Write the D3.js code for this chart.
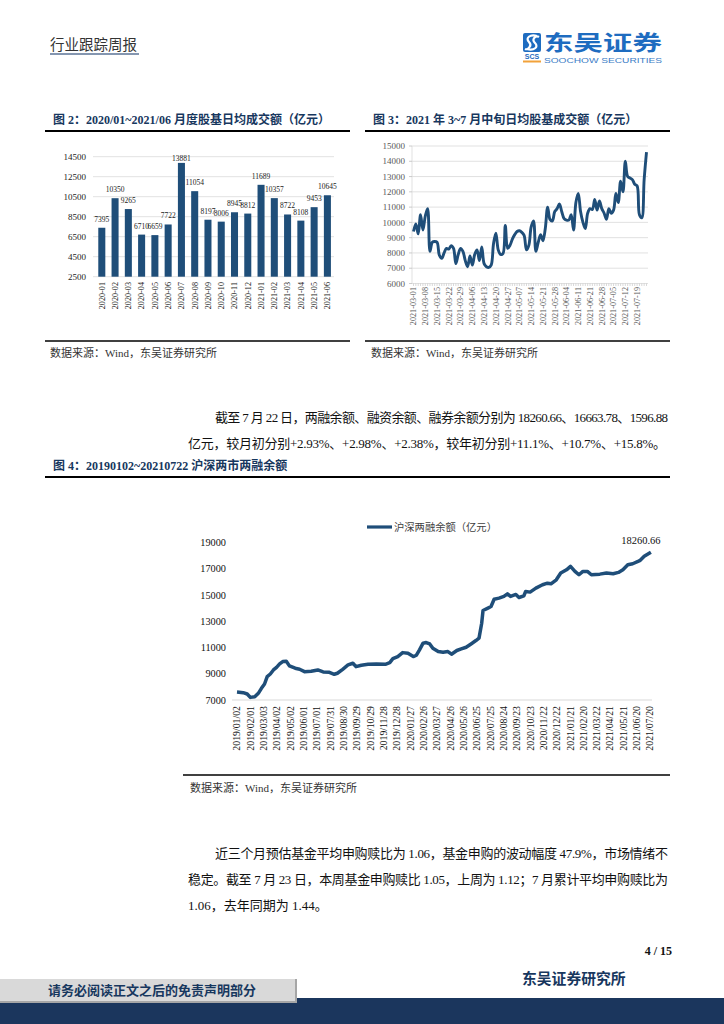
<!DOCTYPE html>
<html><head><meta charset="utf-8">
<script src="https://cdn.jsdelivr.net/npm/d3@7"></script>
<style>body{margin:0;background:#fff}svg{display:block}</style>
</head><body>
<svg id="page" width="724" height="1024"></svg>
<script>
// ---------- DATA ----------
const months2 = ["2020-01","2020-02","2020-03","2020-04","2020-05","2020-06","2020-07","2020-08","2020-09","2020-10","2020-11","2020-12","2021-01","2021-02","2021-03","2021-04","2021-05","2021-06"];
const turnover2 = [7395,10350,9265,6710,6659,7722,13881,11054,8197,8006,8945,8812,11689,10357,8722,8108,9453,10645];
const yTicks2 = [2500,4500,6500,8500,10500,12500,14500];

const daily3 = [9400,9900,9250,10500,9500,10400,10900,8100,8700,8750,
  8700,7850,7650,8000,8300,8250,8480,8300,7300,7900,
  8300,8100,7500,7100,7800,7200,7900,8200,7500,8400,
  7300,7100,7050,7200,8600,9300,8200,7900,7950,9800,
  8300,8500,8900,9200,9400,9450,9350,9150,8200,8500,
  9700,10100,8100,8700,9200,8800,9600,11000,10200,10100,
  10700,10900,11200,10700,10250,10150,10150,10500,9500,11300,
  11900,10700,10000,9600,10600,10900,10850,11500,10800,11400,
  10900,10600,10200,10900,10600,10800,11900,11300,12700,12000,
  14000,13000,12900,12800,12500,12400,10500,10300,12800,14600];
const dateLabels3 = ["2021-03-01","2021-03-08","2021-03-15","2021-03-22","2021-03-29","2021-04-06","2021-04-13","2021-04-20","2021-04-27","2021-05-07","2021-05-14","2021-05-21","2021-05-28","2021-06-04","2021-06-11","2021-06-21","2021-06-28","2021-07-05","2021-07-12","2021-07-19"];
const yTicks3 = [6000,7000,8000,9000,10000,11000,12000,13000,14000,15000];

const marginDates4 = ["2019-01-02","2019-01-16","2019-01-25","2019-02-01","2019-02-11","2019-02-19","2019-02-26","2019-03-05","2019-03-11","2019-03-18","2019-03-25","2019-04-01","2019-04-08","2019-04-15","2019-04-23","2019-04-30","2019-05-13","2019-05-23","2019-06-03","2019-06-18","2019-07-03","2019-07-15","2019-07-29","2019-08-09","2019-08-16","2019-08-28","2019-09-09","2019-09-20","2019-09-27","2019-10-09","2019-10-24","2019-11-12","2019-12-02","2019-12-12","2019-12-19","2019-12-30","2020-01-10","2020-01-22","2020-02-03","2020-02-10","2020-02-17","2020-02-25","2020-03-03","2020-03-11","2020-03-18","2020-03-30","2020-04-10","2020-04-21","2020-04-29","2020-05-11","2020-05-21","2020-06-01","2020-06-12","2020-06-23","2020-06-30","2020-07-06","2020-07-09","2020-07-20","2020-07-27","2020-08-03","2020-08-14","2020-08-25","2020-09-02","2020-09-09","2020-09-21","2020-09-28","2020-10-09","2020-10-13","2020-10-23","2020-11-05","2020-11-20","2020-12-01","2020-12-09","2020-12-21","2020-12-31","2021-01-13","2021-01-22","2021-02-01","2021-02-10","2021-02-19","2021-03-01","2021-03-10","2021-03-29","2021-04-13","2021-04-28","2021-05-10","2021-05-20","2021-05-31","2021-06-11","2021-06-23","2021-06-28","2021-07-07","2021-07-22"];
const marginValues4 = [7610,7560,7460,7200,7250,7510,7890,8220,8780,8980,9290,9490,9750,9930,9950,9600,9420,9340,9160,9190,9290,9140,9110,8960,9040,9340,9670,9800,9540,9650,9720,9750,9720,9850,10150,10310,10610,10560,10310,10410,10820,11330,11380,11270,10940,10690,10640,10690,10490,10770,10890,11020,11270,11530,11710,12850,13820,14000,14120,14680,14760,14890,15090,14890,15040,14810,14940,15270,15220,15520,15780,15900,15850,16160,16670,16920,17180,16800,16540,16800,16800,16540,16590,16670,16620,16720,16920,17300,17380,17560,17640,17950,18260.66];
const dateLabels4 = ["2019/01/02","2019/02/01","2019/03/03","2019/04/02","2019/05/02","2019/06/01","2019/07/01","2019/07/31","2019/08/30","2019/09/29","2019/10/29","2019/11/28","2019/12/28","2020/01/27","2020/02/26","2020/03/27","2020/04/26","2020/05/26","2020/06/25","2020/07/25","2020/08/24","2020/09/23","2020/10/23","2020/11/22","2020/12/22","2021/01/21","2021/02/20","2021/03/22","2021/04/21","2021/05/21","2021/06/20","2021/07/20"];
const yTicks4 = [7000,9000,11000,13000,15000,17000,19000];

// ---------- STYLE ----------
const SERIF = "'Liberation Serif','Noto Sans CJK SC',serif";
const CJK = "'Noto Sans CJK SC',sans-serif";
const NAVY = "#17375e";
const BAR = "#1f4e79";
const GRID = "#d9d9d9";

const svg = d3.select("#page");

// ---------- HEADER ----------
svg.append("text").attr("x",50).attr("y",50).attr("font-family",CJK).attr("font-size",14.5)
  .attr("fill","#333").text("行业跟踪周报");
svg.append("rect").attr("x",50).attr("y",53).attr("width",89).attr("height",2).attr("fill","#8496b0");
// logo
const lg = svg.append("g");
lg.append("rect").attr("x",523).attr("y",33).attr("width",18).attr("height",19).attr("rx",2).attr("fill","#1e6cc0");
lg.append("path").attr("d","M537,36 C530,34 525,38 529,42 C533,46 527,50 525,49 M527,49 C534,51 539,47 535,43 C531,39 536,35 539,37")
  .attr("fill","none").attr("stroke","#fff").attr("stroke-width",2.2);
lg.append("text").attr("x",532).attr("y",59).attr("text-anchor","middle").attr("font-family","'Liberation Sans',sans-serif")
  .attr("font-weight","bold").attr("font-size",7).attr("fill","#1e6cc0").text("SCS");
lg.append("rect").attr("x",523).attr("y",60.5).attr("width",18).attr("height",2).attr("fill","#f2a23a");
lg.append("text").attr("x",544).attr("y",50).attr("font-family",CJK).attr("font-weight","bold").attr("font-size",21)
  .attr("fill","#1e6cc0").attr("textLength",118).attr("lengthAdjust","spacingAndGlyphs").text("东吴证券");
lg.append("text").attr("x",544).attr("y",63).attr("font-family","'Liberation Sans',sans-serif").attr("font-size",7.8)
  .attr("fill","#3a7cc6").attr("textLength",118).attr("lengthAdjust","spacingAndGlyphs").text("SOOCHOW SECURITIES");

// ---------- FIGURE TITLES / RULES ----------
function figTitle(x, y, txt){
  svg.append("text").attr("x",x).attr("y",y).attr("font-family",SERIF).attr("font-weight","bold")
    .attr("font-size",12).attr("fill",NAVY).text(txt);
}
function rule(x1,x2,y,w){ svg.append("line").attr("x1",x1).attr("x2",x2).attr("y1",y).attr("y2",y).attr("stroke","#000").attr("stroke-width",w); }
function source(x,y){ svg.append("text").attr("x",x).attr("y",y).attr("font-family",SERIF).attr("font-size",11).attr("fill","#333").text("数据来源：Wind，东吴证券研究所"); }

figTitle(53,124,"图 2：2020/01~2021/06 月度股基日均成交额（亿元）");
figTitle(373,124,"图 3：2021 年 3~7 月中旬日均股基成交额（亿元）");
rule(45,350,131,2); rule(365,670,131,2);
rule(45,350,341,1.3); rule(365,670,341,1.3);
source(50,357); source(371,357);

// ---------- CHART 2 (bars) ----------
{
  const x = d3.scaleBand().domain(months2).range([94.7,334.5]).paddingInner(0.47).paddingOuter(0.27);
  const y = d3.scaleLinear().domain([2500,14500]).range([276.7,156.7]);
  const g = svg.append("g");
  g.selectAll("line.grid").data(yTicks2).join("line")
    .attr("x1",93).attr("x2",334).attr("y1",d=>y(d)).attr("y2",d=>y(d)).attr("stroke",GRID).attr("stroke-width",0.8);
  g.selectAll("text.yl").data(yTicks2).join("text")
    .attr("x",86).attr("y",d=>y(d)).attr("dy","0.35em").attr("text-anchor","end")
    .attr("font-family",SERIF).attr("font-size",9).attr("fill","#222").text(d=>d);
  g.selectAll("rect.bar").data(turnover2).join("rect")
    .attr("x",(d,i)=>x(months2[i])).attr("width",x.bandwidth())
    .attr("y",d=>y(d)).attr("height",d=>y(2500)-y(d)).attr("fill",BAR);
  g.selectAll("text.vl").data(turnover2).join("text")
    .attr("x",(d,i)=>x(months2[i])+x.bandwidth()/2)
    .attr("y",d=>Math.max(y(d)-6, y(14500)+3.8))
    .attr("text-anchor","middle").attr("font-family",SERIF).attr("font-size",7.5).attr("fill","#222").text(d=>d);
  g.selectAll("text.xl").data(months2).join("text")
    .attr("transform",d=>`translate(${x(d)+x.bandwidth()/2},282) rotate(-90)`)
    .attr("dy","0.35em").attr("text-anchor","end")
    .attr("font-family",SERIF).attr("font-size",8.2).attr("fill","#222").text(d=>d);
}

// ---------- CHART 3 (daily line) ----------
{
  const x = d3.scaleLinear().domain([0,daily3.length-1]).range([413.5,646.5]);
  const y = d3.scaleLinear().domain([6000,15000]).range([283.5,146]);
  const g = svg.append("g");
  g.selectAll("line.grid").data(yTicks3.slice(1)).join("line")
    .attr("x1",412).attr("x2",648).attr("y1",d=>y(d)).attr("y2",d=>y(d)).attr("stroke",GRID).attr("stroke-width",0.8);
  g.append("line").attr("x1",412).attr("x2",412).attr("y1",y(15000)).attr("y2",y(6000)).attr("stroke",GRID).attr("stroke-width",0.8);
  g.append("line").attr("x1",412).attr("x2",648).attr("y1",y(6000)).attr("y2",y(6000)).attr("stroke",GRID).attr("stroke-width",0.8);
  g.selectAll("line.yt").data(yTicks3).join("line")
    .attr("x1",409).attr("x2",412).attr("y1",d=>y(d)).attr("y2",d=>y(d)).attr("stroke","#bfbfbf").attr("stroke-width",0.8);
  g.selectAll("line.xt").data(daily3).join("line")
    .attr("x1",(d,i)=>x(i)).attr("x2",(d,i)=>x(i)).attr("y1",y(6000)).attr("y2",y(6000)+2.5).attr("stroke","#bfbfbf").attr("stroke-width",0.6);
  g.selectAll("text.yl").data(yTicks3).join("text")
    .attr("x",405).attr("y",d=>y(d)).attr("dy","0.35em").attr("text-anchor","end")
    .attr("font-family",SERIF).attr("font-size",9).attr("fill","#595959").text(d=>d);
  g.append("path").datum(daily3)
    .attr("d",d3.line().x((d,i)=>x(i)).y(d=>y(d)).curve(d3.curveCatmullRom.alpha(0.5)))
    .attr("fill","none").attr("stroke",BAR).attr("stroke-width",2.9).attr("stroke-linejoin","round");
  g.selectAll("text.xl").data(dateLabels3).join("text")
    .attr("transform",(d,i)=>`translate(${x(i*5)},287) rotate(-90)`)
    .attr("dy","0.35em").attr("text-anchor","end")
    .attr("font-family",SERIF).attr("font-size",8.2).attr("fill","#595959").text(d=>d);
}

// ---------- PARAGRAPH 1 ----------
function para(x,y,txt,len){
  const t = svg.append("text").attr("x",x).attr("y",y).attr("font-family",SERIF).attr("font-size",13).attr("fill","#111").text(txt);
  if(len) t.attr("textLength",len).attr("lengthAdjust","spacing");
}
para(215,422,"截至 7 月 22 日，两融余额、融资余额、融券余额分别为 18260.66、16663.78、1596.88",453);
para(188,448,"亿元，较月初分别+2.93%、+2.98%、+2.38%，较年初分别+11.1%、+10.7%、+15.8%。",478);

// ---------- CHART 4 ----------
figTitle(53,470,"图 4：20190102~20210722 沪深两市两融余额");
rule(45,670,477,2);
{
  const parse = d3.timeParse("%Y-%m-%d");
  const parse2 = d3.timeParse("%Y/%m/%d");
  const x = d3.scaleTime().domain([parse("2019-01-02"),parse("2021-07-20")]).range([237,650]);
  const y = d3.scaleLinear().domain([7000,19000]).range([700,542.5]);
  const g = svg.append("g");
  g.append("line").attr("x1",232).attr("x2",652).attr("y1",y(7000)).attr("y2",y(7000)).attr("stroke",GRID).attr("stroke-width",1);
  g.selectAll("text.yl").data(yTicks4).join("text")
    .attr("x",226).attr("y",d=>y(d)).attr("dy","0.35em").attr("text-anchor","end")
    .attr("font-family",SERIF).attr("font-size",10.3).attr("fill","#111").text(d=>d);
  const pts = marginDates4.map((d,i)=>[parse(d),marginValues4[i]]);
  g.append("path").datum(pts)
    .attr("d",d3.line().x(d=>x(d[0])).y(d=>y(d[1])))
    .attr("fill","none").attr("stroke",BAR).attr("stroke-width",3.5).attr("stroke-linejoin","round");
  g.selectAll("text.xl").data(dateLabels4).join("text")
    .attr("transform",d=>`translate(${x(parse2(d))},706) rotate(-90)`)
    .attr("dy","0.35em").attr("text-anchor","end")
    .attr("font-family",SERIF).attr("font-size",9.8).attr("fill","#111").text(d=>d);
  const last = pts[pts.length-1];
  g.append("text").attr("x",x(last[0])-10).attr("y",y(last[1])-12).attr("dy","0.35em").attr("text-anchor","middle")
    .attr("font-family",SERIF).attr("font-size",10.5).attr("fill","#111").text(d3.format(".2f")(last[1]));
  // legend
  g.append("line").attr("x1",367).attr("x2",392).attr("y1",527).attr("y2",527).attr("stroke",BAR).attr("stroke-width",3.2);
  g.append("text").attr("x",394).attr("y",527).attr("dy","0.35em").attr("font-family",SERIF).attr("font-size",10.3)
    .attr("fill","#404040").text("沪深两融余额（亿元）");
}
svg.append("line").attr("x1",183).attr("x2",670).attr("y1",775).attr("y2",775).attr("stroke","#000").attr("stroke-width",1.3);
source(190,792);

// ---------- PARAGRAPH 2 ----------
para(215,858,"近三个月预估基金平均申购赎比为 1.06，基金申购的波动幅度 47.9%，市场情绪不",453);
para(188,884,"稳定。截至 7 月 23 日，本周基金申购赎比 1.05，上周为 1.12；7 月累计平均申购赎比为",480);
para(188,910,"1.06，去年同期为 1.44。");

// ---------- FOOTER ----------
svg.append("text").attr("x",672).attr("y",955).attr("text-anchor","end").attr("font-family",SERIF)
  .attr("font-weight","bold").attr("font-size",12).attr("fill","#111").text("4 / 15");
svg.append("text").attr("x",522).attr("y",984).attr("font-family",CJK).attr("font-weight","bold")
  .attr("font-size",14.8).attr("fill",NAVY).text("东吴证券研究所");
svg.append("rect").attr("x",0).attr("y",998).attr("width",724).attr("height",26).attr("fill","#1b365d");
svg.append("rect").attr("x",0).attr("y",979).attr("width",297).attr("height",24).attr("fill","#a6a6a6");
svg.append("rect").attr("x",0).attr("y",979).attr("width",295).attr("height",22).attr("fill","#d9d9d9");
svg.append("text").attr("x",48).attr("y",995).attr("font-family",CJK).attr("font-weight","bold")
  .attr("font-size",13).attr("fill",NAVY).text("请务必阅读正文之后的免责声明部分");
</script>
</body></html>
